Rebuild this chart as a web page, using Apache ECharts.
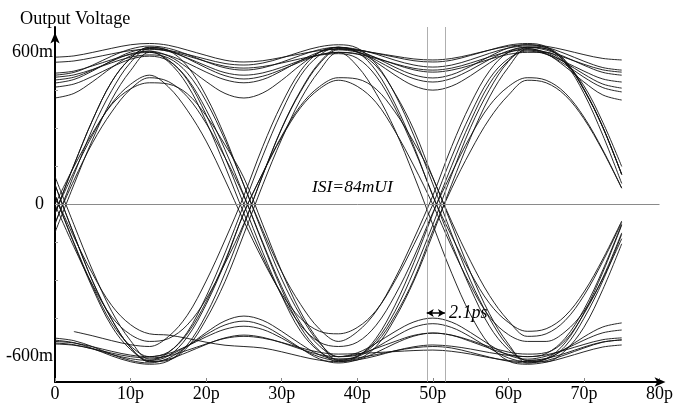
<!DOCTYPE html>
<html><head><meta charset="utf-8">
<script src="https://cdn.jsdelivr.net/npm/echarts@6/dist/echarts.min.js"></script>
<style>html,body{margin:0;padding:0;background:#fff}#c{width:676px;height:407px}</style>
</head><body><div id="c"></div>
<script>
// sample times (ps)
const times = [0,2.5,5,7.5,10,12.5,15,17.5,20,22.5,25,27.5,30,32.5,35,37.5,40,42.5,45,47.5,50,52.5,55,57.5,60,62.5,65,67.5,70,72.5,75];
const xTicks = [0,10,20,30,40,50,60,70,80];
const yTickLabels = [-600,0,600];
const yMinorTicks = [-450,-300,-150,150,300,450];

// eye-diagram traces, output voltage in mV
const U1 = [581,586,600,616,630,635,628,609,588,569,562,567,580,594,607,612,608,597,585,574,570,576,591,609,624,630,624,609,591,576,570];
const U2 = [561,566,579,594,607,612,605,586,564,545,538,544,558,575,589,595,577,506,381,220,36,-154,-332,-480,-572,-615,-607,-587,-562,-542,-534];
const U3 = [518,526,547,571,592,600,570,492,354,186,0,-189,-360,-500,-580,-610,-598,-537,-421,-262,-80,118,304,453,564,620,609,582,549,521,510];
const U4 = [510,521,550,585,613,625,616,592,563,539,530,539,561,588,611,620,612,593,569,550,542,550,571,596,617,625,619,569,456,306,119];
const U5 = [502,511,533,559,581,590,578,519,407,254,77,-114,-294,-438,-546,-600,-591,-567,-540,-516,-507,-515,-536,-561,-582,-590,-584,-537,-431,-289,-112];
const U6 = [491,502,531,565,594,605,563,472,327,151,-35,-207,-358,-476,-543,-560,-543,-476,-358,-207,-32,125,270,390,465,500,490,440,345,215,65];
const U7 = [479,493,527,567,601,615,604,578,547,520,510,519,541,568,591,600,594,546,438,294,106,-68,-224,-359,-458,-520,-510,-458,-359,-224,-70];
const U8 = [463,475,506,542,573,585,567,497,374,216,36,-155,-335,-484,-577,-620,-613,-597,-577,-561,-554,-559,-570,-584,-595,-600,-593,-574,-552,-533,-526];
const U9 = [420,438,485,540,586,605,586,540,485,438,420,440,490,550,600,620,603,561,510,468,451,467,508,558,599,615,595,544,483,432,412];
const L1 = [-527,-537,-561,-591,-615,-625,-606,-560,-505,-459,-440,-457,-500,-550,-593,-610,-605,-592,-577,-565,-560,-566,-583,-602,-618,-625,-616,-593,-566,-543,-534];
const L2 = [-535,-545,-568,-597,-620,-630,-617,-554,-435,-271,-81,116,299,445,555,610,601,579,553,531,522,530,549,573,592,600,600,558,468,324,150];
const L3 = [-540,-546,-561,-579,-594,-600,-588,-558,-522,-492,-480,-493,-527,-568,-601,-615,-609,-560,-449,-301,-117,80,264,424,541,615,599,560,514,475,459];
const L4 = [-546,-553,-570,-591,-608,-615,-597,-523,-394,-228,-33,123,265,382,456,490,466,402,289,152,0,-167,-319,-443,-513,-540,-540,-502,-421,-292,-135];
const L5 = [-550,-555,-569,-586,-600,-605,-597,-575,-550,-528,-520,-527,-544,-565,-583,-590,-588,-584,-580,-576,-574,-579,-590,-604,-615,-620,-608,-546,-428,-267,-81];
const L6 = [null,-501,-518,-537,-553,-560,-521,-437,-302,-140,35,229,397,527,601,620,608,578,541,511,499,512,545,584,617,630,620,595,565,540,530];
const R1 = [-36,155,335,484,577,620,608,546,428,267,75,-103,-265,-394,-491,-540,-502,-421,-292,-135,35,229,397,527,601,620,614,564,453,304,118];
const R2 = [-78,117,301,449,560,615,608,592,573,556,550,558,578,602,622,630,617,554,435,271,81,-117,-301,-449,-560,-615,-609,-560,-449,-301,-117];
const R3 = [0,149,283,394,456,480,475,437,350,235,105,-80,-264,-424,-541,-615,-600,-564,-521,-484,-470,-485,-522,-567,-605,-620,-620,-577,-484,-335,-155];
const R4 = [-110,78,258,414,528,600,588,558,522,492,480,493,527,568,601,615,610,596,581,567,562,569,588,609,628,635,622,559,438,273,83];
const R5 = [-33,128,275,398,474,510,464,372,250,97,-66,-219,-352,-449,-500,-510,-485,-418,-301,-158,0,188,357,496,575,605,593,562,526,495,483];
const R6 = [-36,155,335,484,577,620,608,576,539,508,495,506,532,563,590,600,546,438,294,114,-80,-271,-435,-554,-617,-630,-622,-603,-581,-562,-554];
const R7 = [-72,95,245,365,455,500,485,425,320,185,33,-150,-324,-468,-558,-600,-585,-547,-501,-463,-448,-464,-505,-553,-594,-610,-598,-570,-535,-506,-495];
const F1 = [36,-154,-332,-480,-572,-615,-584,-504,-363,-191,0,192,366,508,589,620,601,527,397,229,34,-125,-270,-390,-465,-500,-490,-440,-345,-215,-65];
const F2 = [78,-118,-304,-453,-564,-620,-610,-583,-552,-526,-515,-524,-545,-570,-592,-600,-594,-546,-438,-294,-104,64,211,338,431,490,480,431,338,211,64];
const F3 = [0,-167,-319,-443,-513,-540,-529,-475,-373,-232,-75,117,301,449,560,615,602,569,529,496,483,497,531,572,606,620,614,564,453,304,118];
const F4 = [110,-79,-262,-421,-537,-610,-595,-558,-513,-475,-460,-477,-518,-567,-609,-625,-613,-584,-548,-519,-507,-516,-540,-567,-591,-600,-588,-528,-414,-258,-78];
const F5 = [36,-150,-324,-468,-558,-600,-582,-510,-384,-222,-33,125,270,390,465,500,495,455,365,245,106,-81,-269,-431,-550,-625,-609,-570,-522,-483,-467];
const F6 = [36,-128,-275,-398,-474,-510,-515,-528,-543,-555,-560,-566,-581,-599,-614,-620,-601,-527,-397,-229,-37,153,329,476,567,610,593,552,502,461,444];
const F7 = [78,-118,-304,-453,-564,-620,-614,-564,-453,-304,-116,78,258,414,528,600,593,576,555,537,530,538,558,582,602,610,601,579,553,531,522];

const traces = [U1,U2,U3,U4,U5,U6,U7,U8,U9,L1,L2,L3,L4,L5,L6,R1,R2,R3,R4,R5,R6,R7,F1,F2,F3,F4,F5,F6,F7];

// annotations
const cursorTimes = [49.2, 51.6];
const skewLevel = -428;
const skewText = '2.1ps';
const isiAnchor = [34.0, 69];
const isiText = 'ISI=84mUI';

const FONT = 'Liberation Serif';
const chart = echarts.init(document.getElementById('c'), null, {renderer:'canvas'});

const series = traces.map(tr => ({
  type:'line',
  data: times.map((t,i) => [t, tr[i]]),
  smooth: 0.35,
  showSymbol:false,
  silent:true,
  lineStyle:{color:'#111', width:0.9},
  z:2
}));

series.push({
  type:'line', data:[], silent:true, z:1,
  markLine:{
    silent:true, symbol:['none','none'], animation:false,
    label:{show:false},
    data:[
      {yAxis:0, lineStyle:{color:'#8a8a8a', width:1, type:'solid'}},
      {xAxis:cursorTimes[0], lineStyle:{color:'#9a9a9a', width:0.8, type:'solid'}},
      {xAxis:cursorTimes[1], lineStyle:{color:'#9a9a9a', width:0.8, type:'solid'}}
    ]
  }
});
series.push({
  type:'line', data:[], silent:true, z:5,
  markLine:{
    silent:true, animation:false, symbol:['arrow','arrow'], symbolSize:[6,7],
    lineStyle:{color:'#000', width:1.5, type:'solid'},
    label:{show:true, position:'end', distance:4, formatter:skewText,
      fontFamily:FONT, fontStyle:'italic', fontSize:18, color:'#000'},
    data:[[{coord:[cursorTimes[0], skewLevel]},{coord:[cursorTimes[1], skewLevel]}]]
  },
  markPoint:{
    silent:true, animation:false, symbol:'circle', symbolSize:0.1,
    itemStyle:{color:'transparent'},
    label:{show:true, position:'right', distance:0, formatter:isiText,
      fontFamily:FONT, fontStyle:'italic', fontSize:17.5, color:'#000'},
    data:[{coord:isiAnchor}]
  }
});

chart.setOption({
  animation:false,
  backgroundColor:'#fff',
  title:{text:'Output Voltage', left:15, top:5,
    textStyle:{fontFamily:FONT, fontSize:18.2, fontWeight:'normal', color:'#000'}},
  grid:{left:55, right:13, top:27, bottom:25},
  xAxis:{
    type:'value', min:xTicks[0], max:xTicks[xTicks.length-1], interval:10,
    axisLine:{show:true, onZero:false, lineStyle:{color:'#000', width:2},
      symbol:['none','arrow'], symbolSize:[7,11], symbolOffset:[0,6]},
    axisTick:{show:true, inside:true, length:4, lineStyle:{color:'#888', width:1}},
    axisLabel:{fontFamily:FONT, fontSize:18, color:'#000', margin:3,
      formatter:v => v === 0 ? '0' : v + 'p'},
    splitLine:{show:false}
  },
  yAxis:{
    type:'value', min:-700, max:700,
    axisLine:{show:true, onZero:false, lineStyle:{color:'#000', width:2},
      symbol:['none','arrow'], symbolSize:[7,11], symbolOffset:[0,-5.5]},
    axisTick:{show:true, inside:true, length:3, customValues:yMinorTicks, lineStyle:{color:'#999', width:1}},
    axisLabel:{customValues:yTickLabels, fontFamily:FONT, fontSize:18, color:'#000', margin:2,
      formatter:v => v === 0 ? '0\u2002' : v + 'm'},
    splitLine:{show:false}
  },
  series
});
</script>
</body></html>
